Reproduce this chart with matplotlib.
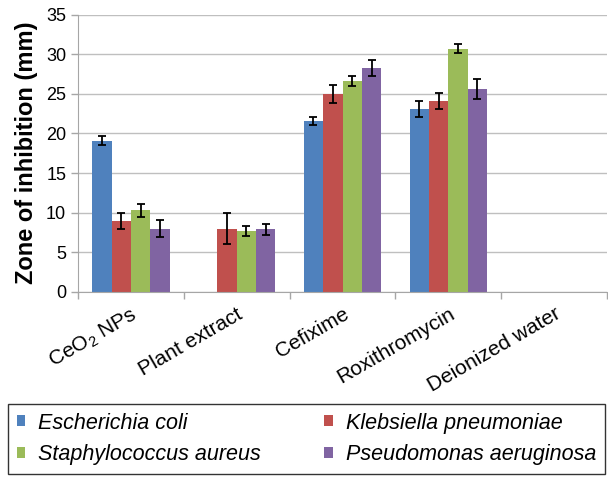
import matplotlib
matplotlib.use("Agg")
import matplotlib.pyplot as plt
import numpy as np
from matplotlib.patches import Patch

plt.rcParams['font.family'] = ['Liberation Sans', 'DejaVu Sans']
plt.rcParams['mathtext.fontset'] = 'custom'
plt.rcParams['mathtext.rm'] = 'Liberation Sans'
plt.rcParams['mathtext.it'] = 'Liberation Sans:italic'

categories = [r'CeO$_\mathregular{2}$ NPs', 'Plant extract', 'Cefixime', 'Roxithromycin', 'Deionized water']
series = ['Escherichia coli', 'Klebsiella pneumoniae', 'Staphylococcus aureus', 'Pseudomonas aeruginosa']
colors = ['#4F81BD', '#C0504D', '#9BBB59', '#8064A2']

e_coli = [19.1, 0, 21.6, 23.1, 0]
k_pneu = [9.0, 8.0, 25.0, 24.1, 0]
s_aur = [10.3, 7.7, 26.6, 30.7, 0]
p_aer = [8.0, 7.9, 28.3, 25.6, 0]

e_coli_err = [0.6, 0, 0.5, 1.0, 0]
k_pneu_err = [1.0, 2.0, 1.1, 1.0, 0]
s_aur_err = [0.8, 0.6, 0.6, 0.6, 0]
p_aer_err = [1.1, 0.7, 1.0, 1.3, 0]

values = [e_coli, k_pneu, s_aur, p_aer]
errors = [e_coli_err, k_pneu_err, s_aur_err, p_aer_err]

fig = plt.figure(figsize=(6.08, 4.79), dpi=100)
ax = fig.add_axes([78/608, 1-292/479, (607-78)/608, (292-14.5)/479])

x = np.arange(len(categories))
w = 0.183
for i, (v, e, c) in enumerate(zip(values, errors, colors)):
    pos = x + (i - 1.5) * w
    ax.bar(pos, v, width=w, color=c, zorder=2)
    mask = np.array(e) > 0
    ax.errorbar(pos[mask], np.array(v)[mask], yerr=np.array(e)[mask], fmt='none',
                ecolor='black', elinewidth=1.3, capsize=3, capthick=1.3, zorder=3)

ax.set_xlim(-0.5, len(categories) - 0.5)
ax.set_ylim(0, 35)
ax.set_yticks(np.arange(0, 36, 5))
ax.yaxis.grid(True, color='#BFBFBF', linewidth=1.0, zorder=0)
ax.set_axisbelow(True)
for s in ['top', 'right']:
    ax.spines[s].set_visible(False)
ax.spines['left'].set_color('#A6A6A6')
ax.spines['bottom'].set_color('#A6A6A6')
ax.tick_params(axis='y', colors='#A6A6A6', labelcolor='black', labelsize=13, length=5, width=1)
ax.set_xticks(np.arange(-0.5, len(categories), 1.0))
ax.set_xticklabels([])
ax.tick_params(axis='x', colors='#A6A6A6', length=5, width=1)
ax.set_xticks(x, minor=True)
ax.set_xticklabels(categories, minor=True, rotation=30, ha='right', rotation_mode='anchor', fontsize=15)
ax.tick_params(axis='x', which='minor', length=0, pad=9)

ax.set_ylabel('Zone of inhibition (mm)', fontsize=17, fontweight='bold', labelpad=6)

# legend filled row-wise like the reference (matplotlib fills column-wise)
order = [0, 2, 1, 3]
handles = [Patch(facecolor=colors[i], edgecolor='none') for i in order]
labels = [series[i] for i in order]
leg = fig.legend(handles, labels, ncol=2, loc='lower left',
                 bbox_to_anchor=(8/608, 5/479, 597/608, 68/479), mode='expand',
                 prop={'style': 'italic', 'size': 15.5}, frameon=True, fancybox=False,
                 edgecolor='black', handlelength=0.4, handleheight=0.4, handletextpad=0.6,
                 borderaxespad=0, labelspacing=0.5, borderpad=0.4, columnspacing=2.0)
leg.get_frame().set_linewidth(1.0)

fig.savefig('out.png', dpi=100)
